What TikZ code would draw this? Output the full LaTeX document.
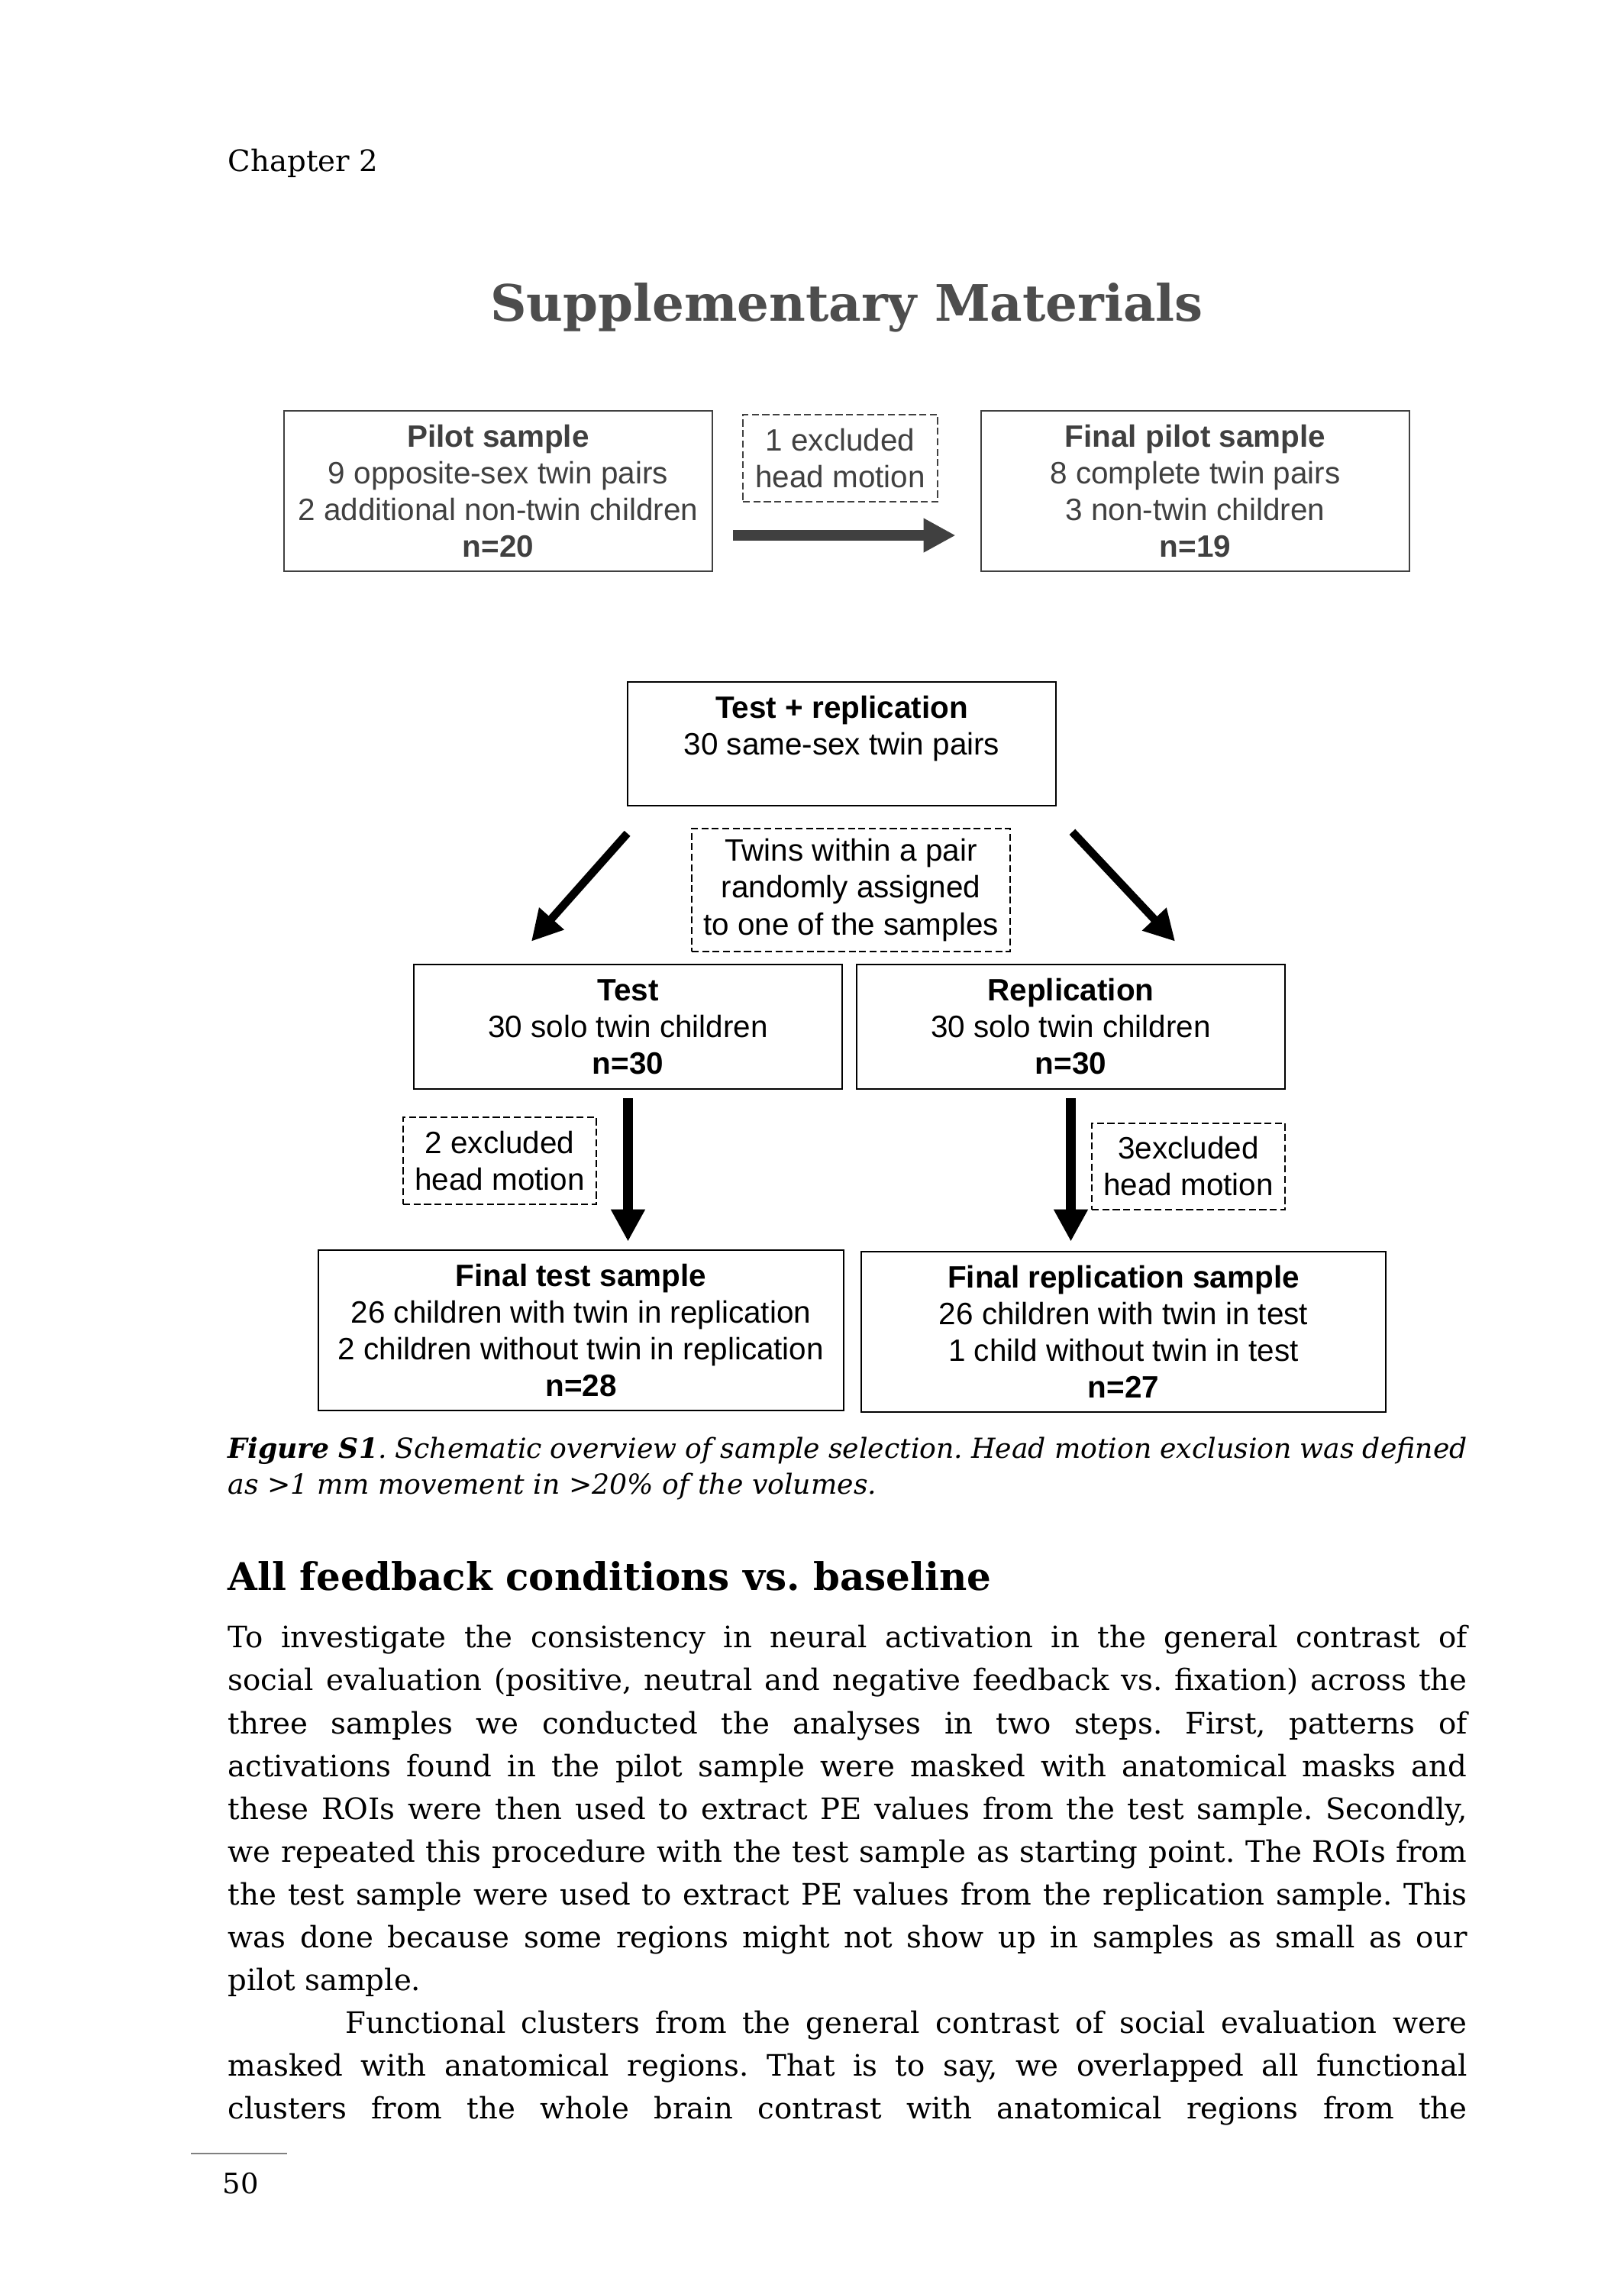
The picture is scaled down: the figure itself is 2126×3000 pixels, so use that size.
\documentclass[tikz,border=0pt]{standalone}
\usepackage{fontspec}
\setmainfont{DejaVu Serif}
\newfontfamily\diagfont{Liberation Sans}
\usetikzlibrary{arrows.meta}

\definecolor{topgray}{RGB}{64,64,64}
\definecolor{titlegray}{RGB}{77,77,77}

\newcommand{\fullline}[2][16.22cm]{\makebox[#1][s]{#2}}
\frenchspacing

\begin{document}
\begin{tikzpicture}[x=0.01cm, y=-0.01cm]

      \useasboundingbox (0,0) rectangle (2126,3000);

      % page text
      \begin{scope}[every node/.style={inner sep=0pt, anchor=base west, font=\fontsize{11}{13}\selectfont}]
        \node (chap)  at (298,225)  {Chapter 2};
        \node[anchor=base, text=titlegray, font=\fontsize{18.7}{22}\selectfont\bfseries] (title) at (1109,420) {Supplementary Materials};

        \node[font=\fontsize{10.3}{12}\selectfont\itshape] (c1) at (298,1909) {\fullline{\textbf{Figure S1}. Schematic overview of sample selection. Head motion exclusion was defined}};
        \node[font=\fontsize{10.3}{12}\selectfont\itshape] (c2) at (298,1956) {as >1 mm movement in >20\% of the volumes.};

        \node[font=\fontsize{14.2}{17}\selectfont\bfseries] (head) at (298,2082) {All feedback conditions vs. baseline};

        \node (b1)  at (298,2157) {\fullline{To investigate the consistency in neural activation in the general contrast of}};
        \node (b2)  at (298,2213) {\fullline{social evaluation (positive, neutral and negative feedback vs. fixation) across the}};
        \node (b3)  at (298,2270) {\fullline{three samples we conducted the analyses in two steps. First, patterns of}};
        \node (b4)  at (298,2326) {\fullline{activations found in the pilot sample were masked with anatomical masks and}};
        \node (b5)  at (298,2382) {\fullline{these ROIs were then used to extract PE values from the test sample. Secondly,}};
        \node (b6)  at (298,2438) {\fullline{we repeated this procedure with the test sample as starting point. The ROIs from}};
        \node (b7)  at (298,2494) {\fullline{the test sample were used to extract PE values from the replication sample. This}};
        \node (b8)  at (298,2550) {\fullline{was done because some regions might not show up in samples as small as our}};
        \node (b9)  at (298,2606) {pilot sample.};
        \node (b10) at (452,2662) {\fullline[14.68cm]{Functional clusters from the general contrast of social evaluation were}};
        \node (b11) at (298,2718) {\fullline{masked with anatomical regions. That is to say, we overlapped all functional}};
        \node (b12) at (298,2774) {\fullline{clusters from the whole brain contrast with anatomical regions from the}};

        \node[font=\fontsize{10.5}{12}\selectfont] (page) at (291,2872) {50};
      \end{scope}

      \draw[gray, line width=0.6pt] (250,2820) -- (376,2820);

      % boxes
      \begin{scope}[every node/.style={draw, align=center, inner sep=0pt, line width=0.7pt,
                    font=\diagfont\fontsize{11.5}{13.66}\selectfont}]

        \begin{scope}[every node/.append style={draw=topgray, text=topgray}]
          \node[minimum width=5.61cm, minimum height=2.1cm] (pilot)  at (652.5,643)
            {\textbf{Pilot sample}\\9 opposite-sex twin pairs\\2 additional non-twin children\\\textbf{n=20}};
          \node[minimum width=5.61cm, minimum height=2.1cm] (fpilot) at (1565.5,643)
            {\textbf{Final pilot sample}\\8 complete twin pairs\\3 non-twin children\\\textbf{n=19}};
          \node[dash pattern=on 2.6pt off 1.3pt, line width=0.6pt,
                minimum width=2.55cm, minimum height=1.14cm] (excl1) at (1100.5,600)
            {1 excluded\\head motion};
        \end{scope}

        \node[minimum width=5.61cm, minimum height=1.62cm] (testrep) at (1102.5,974)
          {\textbf{Test + replication}\\30 same-sex twin pairs\\\mbox{}};
        \node[dash pattern=on 2.6pt off 1.3pt, line width=0.6pt,
              minimum width=4.17cm, minimum height=1.61cm] (twins) at (1114.5,1165.5)
          {Twins within a pair\\randomly assigned\\to one of the samples};

        \node[minimum width=5.61cm, minimum height=1.63cm] (test) at (822.5,1344.5)
          {\textbf{Test}\\30 solo twin children\\\textbf{n=30}};
        \node[minimum width=5.61cm, minimum height=1.63cm] (rep)  at (1402.5,1344.5)
          {\textbf{Replication}\\30 solo twin children\\\textbf{n=30}};

        \node[dash pattern=on 2.6pt off 1.3pt, line width=0.6pt,
              minimum width=2.53cm, minimum height=1.14cm] (excl2) at (654.5,1520)
          {2 excluded\\head motion};
        \node[dash pattern=on 2.6pt off 1.3pt, line width=0.6pt,
              minimum width=2.53cm, minimum height=1.13cm] (excl3) at (1556.5,1527.5)
          {3excluded\\head motion};

        \node[minimum width=6.88cm, minimum height=2.1cm] (ftest) at (761,1742)
          {\textbf{Final test sample}\\26 children with twin in replication\\2 children without twin in replication\\\textbf{n=28}};
        \node[minimum width=6.87cm, minimum height=2.1cm] (frep)  at (1471.5,1744)
          {\textbf{Final replication sample}\\26 children with twin in test\\1 child without twin in test\\\textbf{n=27}};
      \end{scope}

      \coordinate (t1) at (test.south |- ftest.north);
      \coordinate (t2) at (rep.south |- frep.north);

      % arrows
      \begin{scope}[line width=3.6pt, -{Triangle[length=0.42cm, width=0.42cm]}]
        \draw[topgray, line width=4pt] ([xshift=0.26cm,yshift=-0.58cm]pilot.east) -- ([xshift=-0.32cm,yshift=-0.58cm]fpilot.west);
        \draw[line width=3pt, -{Triangle[length=0.4cm, width=0.41cm]}]
          ([xshift=0.01cm,yshift=-0.35cm]testrep.south west) -- ([xshift=-1.265cm,yshift=0.29cm]test.north);
        \draw[line width=3pt, -{Triangle[length=0.4cm, width=0.41cm]}]
          ([xshift=0.2cm,yshift=-0.33cm]testrep.south east) -- ([xshift=1.365cm,yshift=0.29cm]rep.north);
        \draw ([yshift=-0.11cm]test.south) -- ([yshift=0.1cm]t1);
        \draw ([yshift=-0.11cm]rep.south) -- ([yshift=0.12cm]t2);
      \end{scope}

    \end{tikzpicture}
\end{document}
